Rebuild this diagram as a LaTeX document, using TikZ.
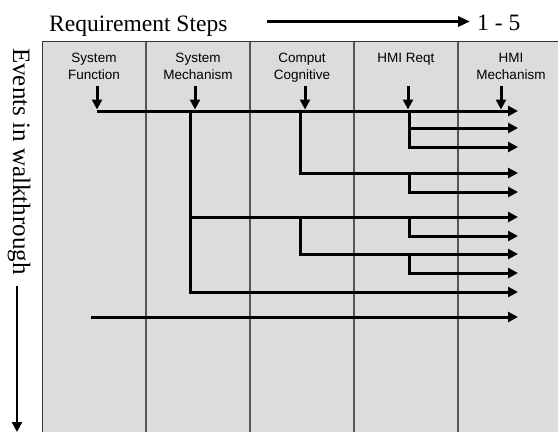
\documentclass[tikz,border=0pt]{standalone}
\usepackage{fontspec}
\setmainfont{Liberation Serif}
\newfontfamily\hdrfont{Liberation Sans}
\usetikzlibrary{arrows.meta}
\definecolor{cellgray}{RGB}{220,220,220}
\definecolor{gridcol}{RGB}{85,85,85}
\tikzset{
  flow/.style={line width=3pt,-{Triangle[length=10pt,width=10pt]}},
  trunk/.style={line width=3pt},
  downarr/.style={line width=3pt,-{Triangle[length=10pt,width=10pt]},shorten >=1.5pt},
  hdr/.style={font=\hdrfont\fontsize{13.5}{17}\selectfont,align=center,anchor=north,inner sep=0pt},
  gridline/.style={line width=1.2pt,draw=gridcol},
  border/.style={line width=1pt,draw=black!80},
  titletext/.style={font=\fontsize{23.5}{28}\selectfont,inner sep=0pt}
}
\begin{document}
\begin{tikzpicture}[x=1pt,y=-1pt,line join=miter]
\useasboundingbox (0,0) rectangle (558,432);
% table background and grid
\fill[cellgray] (42,41) rectangle (558,432);
\foreach \x in {146,250,354,458} \draw[gridline] (\x,41) -- (\x,432);
\draw[border] (42,432) -- (42,41) -- (558,41);

% titles
\node[titletext,anchor=base west] (title) at (49,31) {Requirement Steps};
\node[titletext,anchor=base west] (range) at (477,30) {1 - 5};
\coordinate (ta) at (267,21.5);
\coordinate (tb) at (470,21.5);
\draw[line width=3pt,-{Triangle[length=12pt,width=10pt]}] (ta) -- (tb);

\node[font=\fontsize{25}{30}\selectfont,inner sep=0pt,rotate=-90,anchor=base west] (events) at (13,48) {Events in walkthrough};
\coordinate (la) at (17,286);
\coordinate (lb) at (17,432);
\draw[line width=2.6pt,-{Triangle[length=10pt,width=10pt]}] (la) -- (lb);

% column headers
\node[hdr] (h1) at (94,53) {System\\Function};
\node[hdr] (h2) at (198,53) {System\\Mechanism};
\node[hdr] (h3) at (302,53) {Comput\\Cognitive};
\node[hdr] (h4) at (406,53) {HMI Reqt};
\node[hdr] (h5) at (511,53) {HMI\\Mechanism};

% down arrows from headers
\coordinate (d1) at (97,86);  \coordinate (e1) at (97,111);
\coordinate (d2) at (195,86); \coordinate (e2) at (195,111);
\coordinate (d3) at (305,86); \coordinate (e3) at (305,111);
\coordinate (d4) at (408,86); \coordinate (e4) at (408,111);
\coordinate (d5) at (501,86); \coordinate (e5) at (501,111);
\foreach \i in {1,...,5} \draw[downarr] (d\i) -- (e\i);

% row end points
\coordinate (r1) at (518,111);
\coordinate (r2) at (518,128);
\coordinate (r3) at (518,147);
\coordinate (r4) at (518,173);
\coordinate (r5) at (518,192);
\coordinate (r6) at (518,217);
\coordinate (r7) at (518,236);
\coordinate (r8) at (518,254);
\coordinate (r9) at (518,273);
\coordinate (r10) at (518,292);
\coordinate (r11) at (518,317);

% branch origins
\coordinate (sm) at (190,111);
\coordinate (cc1) at (300,111);
\coordinate (hr1) at (409,111);
\coordinate (hr2) at (409,173);
\coordinate (sm2) at (190,217);
\coordinate (hr3) at (409,217);
\coordinate (cc2) at (300,217);
\coordinate (hr4) at (409,254);
\coordinate (start11) at (91,317);

% flows
\draw[flow] (e1) -- (r1);
\draw[flow] (hr1) |- (r3);
\draw[flow] (hr1 |- r2) -- (r2);
\draw[flow] (cc1) |- (r4);
\draw[flow] (hr2) |- (r5);
\draw[flow] (sm) |- (r10);
\draw[flow] (sm2) -- (r6);
\draw[flow] (hr3) |- (r7);
\draw[flow] (cc2) |- (r8);
\draw[flow] (hr4) |- (r9);
\draw[flow] (start11) -- (r11);
\end{tikzpicture}
\end{document}
